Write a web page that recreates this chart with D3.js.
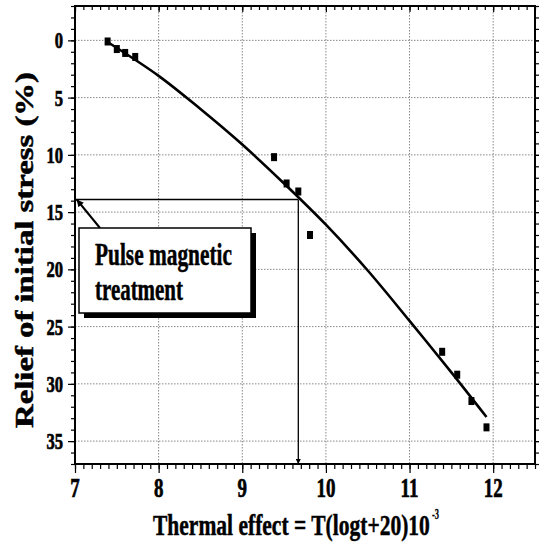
<!DOCTYPE html>
<html><head><meta charset="utf-8">
<script src="https://cdn.jsdelivr.net/npm/d3@7"></script>
<style>
html,body{margin:0;padding:0;background:#fff;}
svg{display:block;font-family:"Liberation Serif","Times New Roman",serif;font-weight:bold;}
</style>
</head><body>
<svg id="c" width="539" height="547"></svg>
<script>
// ---- data ----
const xDomain = [7, 12.5];
const yDomain = [-3, 37];
const xTicks = [7, 8, 9, 10, 11, 12];
const yTicks = [0, 5, 10, 15, 20, 25, 30, 35];
const pointX = [7.39, 7.50, 7.60, 7.72, 9.38, 9.53, 9.67, 9.81, 11.39, 11.57, 11.74, 11.92];
const pointY = [0.1, 0.76, 1.1, 1.45, 10.2, 12.5, 13.2, 17.0, 27.2, 29.2, 31.5, 33.8];
const fitX = [7.38, 8.0, 8.5, 9.0, 9.5, 10.0, 10.5, 11.0, 11.5, 11.92];
const fitY = [0.1, 3.1, 6.0, 9.1, 12.5, 16.1, 20.1, 24.5, 29.0, 32.9];
const markerX = 9.67, markerY = 13.9;
const xTitle = "Thermal effect = T(logt+20)10", xTitleSup = "-3";
const yTitle = "Relief of initial stress (%)";
const noteLines = ["Pulse magnetic", "treatment"];

// ---- layout ----
const W = 539, H = 547;
const m = {left: 75, top: 6, right: 4, bottom: 83};
const svg = d3.select("#c");
const x = d3.scaleLinear().domain(xDomain).range([m.left, W - m.right]);
const y = d3.scaleLinear().domain(yDomain).range([m.top, H - m.bottom]);
const x0 = x.range()[0], x1 = x.range()[1], y0 = y.range()[0], y1 = y.range()[1];

// horizontally condense a text, either by factor k or to width w
function condense(sel, k, w){
  sel.each(function(){
    const t = d3.select(this);
    const L = this.getComputedTextLength();
    const s = w ? w / L : k;
    const tx = +t.attr("x") || 0, ty = +t.attr("y") || 0;
    t.attr("x", 0).attr("y", 0).attr("transform", `translate(${tx},${ty}) scale(${s},1)`);
  });
}
function heavy(sel, w){ sel.attr("stroke", "#000").attr("stroke-width", w).attr("fill", "#000"); }

svg.append("rect").attr("width", W).attr("height", H).attr("fill", "#fff");

// defs
const defs = svg.append("defs");
defs.append("marker").attr("id","tri").attr("viewBox","0 0 10 10").attr("refX",10).attr("refY",5)
  .attr("markerWidth",12).attr("markerHeight",5).attr("markerUnits","userSpaceOnUse").attr("orient","auto")
  .append("path").attr("d","M0,0 L10,5 L0,10 Z").attr("fill","#000");
defs.append("marker").attr("id","tri2").attr("viewBox","0 0 10 10").attr("refX",10).attr("refY",5)
  .attr("markerWidth",9).attr("markerHeight",7).attr("markerUnits","userSpaceOnUse").attr("orient","auto")
  .append("path").attr("d","M0,0 L10,5 L0,10 Z").attr("fill","#000");

// grid
const grid = svg.append("g").attr("stroke", "#888").attr("stroke-width", 1).attr("stroke-dasharray", "1.5,1.5");
grid.selectAll(".gx").data(xTicks.filter(d => d > xDomain[0])).join("line")
  .attr("x1", d => x(d)).attr("x2", d => x(d)).attr("y1", y0).attr("y2", y1);
grid.selectAll(".gy").data(yTicks).join("line")
  .attr("y1", d => y(d)).attr("y2", d => y(d)).attr("x1", x0).attr("x2", x1);

// axes ticks
const minorX = d3.range(70, 126).map(d => d / 10);
const minorY = d3.range(-3, 38);
function axis(gen, scale, vals, size, tx, ty){
  const g = svg.append("g").attr("transform", `translate(${tx},${ty})`)
    .call(gen(scale).tickValues(vals).tickSize(size).tickSizeOuter(0).tickFormat(""));
  g.select(".domain").remove();
  g.selectAll("line").attr("stroke", "#000").attr("stroke-width", 1.2);
  return g;
}
axis(d3.axisBottom, x, minorX, 5, 0, y1);
axis(d3.axisBottom, x, xTicks, 9, 0, y1);
axis(d3.axisLeft, y, minorY, 4, x0, 0);
axis(d3.axisLeft, y, yTicks, 7, x0, 0);
axis(d3.axisBottom, x, minorX, 4, 0, y0);
axis(d3.axisBottom, x, xTicks, 6, 0, y0);
axis(d3.axisLeft, y, minorY, -4, x1, 0);
axis(d3.axisLeft, y, yTicks, -6, x1, 0);

// frame
svg.append("rect").attr("x", x0).attr("y", y0).attr("width", x1 - x0).attr("height", y1 - y0)
  .attr("fill", "none").attr("stroke", "#000").attr("stroke-width", 2);

// tick labels
svg.append("g").selectAll("text").data(xTicks).join("text")
  .attr("x", d => x(d)).attr("y", y1 + 33).attr("text-anchor", "middle")
  .attr("font-size", 27).text(d => d).call(condense, 0.7).call(heavy, 0.7);
svg.append("g").selectAll("text").data(yTicks).join("text")
  .attr("x", x0 - 12).attr("y", d => y(d) + 8).attr("text-anchor", "end")
  .attr("font-size", 23).text(d => d).call(condense, 0.72).call(heavy, 0.7);

// titles
svg.append("text").attr("x", 153).attr("y", 535).attr("font-size", 30).text(xTitle)
  .call(condense, null, 277).call(heavy, 0.5);
svg.append("text").attr("x", 432).attr("y", 519).attr("font-size", 14).text(xTitleSup)
  .call(condense, null, 7).call(heavy, 0.3);
svg.append("text").attr("transform", "translate(33,250) rotate(-90)").attr("text-anchor", "middle")
  .attr("font-size", 25).text(yTitle)
  .attr("textLength", 356).attr("lengthAdjust", "spacingAndGlyphs").call(heavy, 0.5);

// marker lines
svg.append("line").attr("x1", x0).attr("x2", x(markerX)).attr("y1", y(markerY)).attr("y2", y(markerY))
  .attr("stroke", "#000").attr("stroke-width", 1.3);
svg.append("line").attr("x1", x(markerX)).attr("x2", x(markerX)).attr("y1", y(markerY)).attr("y2", y1)
  .attr("stroke", "#000").attr("stroke-width", 1.3).attr("marker-end", "url(#tri)");

// fit curve
const line = d3.line().x((d, i) => x(fitX[i])).y((d, i) => y(fitY[i])).curve(d3.curveCatmullRom);
svg.append("path").datum(fitX).attr("d", line).attr("fill", "none").attr("stroke", "#000").attr("stroke-width", 2.6);

// points
svg.append("g").selectAll("rect").data(pointX).join("rect")
  .attr("x", (d, i) => x(d) - 3).attr("y", (d, i) => y(pointY[i]) - 4)
  .attr("width", 6).attr("height", 8).attr("fill", "#000");

// annotation
svg.append("line").attr("x1", 100).attr("y1", 228).attr("x2", x(7.02)).attr("y2", y(markerY))
  .attr("stroke", "#000").attr("stroke-width", 2).attr("marker-end", "url(#tri2)");
svg.append("rect").attr("x", 84).attr("y", 233).attr("width", 172).attr("height", 85).attr("fill", "#000");
svg.append("rect").attr("x", 79).attr("y", 228).attr("width", 172).attr("height", 85)
  .attr("fill", "#fff").attr("stroke", "#000").attr("stroke-width", 1.5);
svg.append("text").attr("x", 95).attr("y", 265).attr("font-size", 31).text(noteLines[0])
  .call(condense, null, 137).call(heavy, 0.5);
svg.append("text").attr("x", 95).attr("y", 300).attr("font-size", 31).text(noteLines[1])
  .call(condense, null, 88).call(heavy, 0.5);
</script>
</body></html>
